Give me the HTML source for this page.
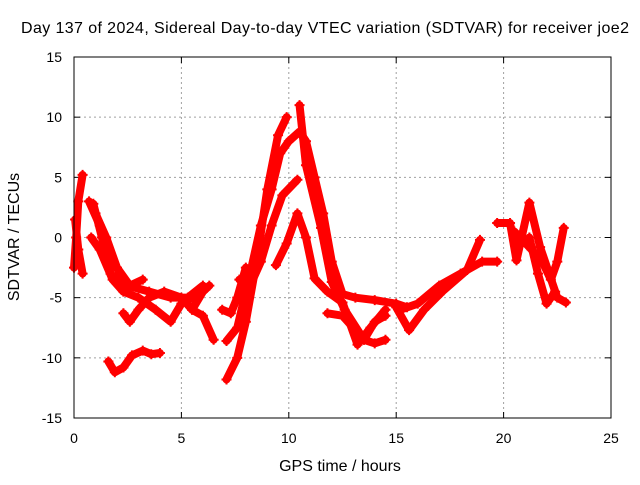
<!DOCTYPE html>
<html><head><meta charset="utf-8"><style>
body{margin:0;background:#fff}
svg text{font-family:"Liberation Sans",sans-serif;font-size:14px;fill:#000}
svg text.big{font-size:16px}
</style></head><body>
<svg id="c" width="640" height="480"></svg>
<script>
const xTicks=[0,5,10,15,20,25];
const yTicks=[-15,-10,-5,0,5,10,15];
const track1=[[0,-2.5],[0.1,0],[0.2,3],[0.4,5.2]];
const track2=[[0.05,1.5],[0.2,-1],[0.4,-3]];
const track3=[[0.7,3],[1.2,1],[1.8,-2],[2.5,-4],[3.5,-4.5],[4.5,-5],[5.3,-5],[6,-4]];
const track4=[[0.8,0],[1.2,-1],[1.8,-3.5],[2.3,-4.5],[3,-5],[3.8,-6],[4.5,-7],[5,-5.5],[5.5,-5]];
const track5=[[1,2],[1.5,0],[2,-2.5],[2.6,-4],[3.2,-3.5]];
const track5b=[[0.9,2.8],[1.3,0],[1.7,-3],[2.2,-4]];
const track6=[[2.3,-6.3],[2.6,-7],[3,-6],[3.5,-5],[4.2,-4.5],[5,-5],[5.5,-6],[6,-6.5],[6.5,-8.5]];
const track7=[[1.6,-10.3],[1.9,-11.2],[2.3,-10.8],[2.7,-9.8],[3.2,-9.4],[3.6,-9.7],[4,-9.6]];
const track8=[[5.5,-6],[6,-4.5],[6.3,-4]];
const track9=[[7.1,-11.8],[7.6,-10],[8,-7],[8.5,-2],[9,4],[9.5,8.5],[9.9,10]];
const track10=[[7.1,-8.6],[7.6,-7.5],[8.2,-3],[8.7,1],[9.2,4],[9.6,7],[10,8],[10.5,8.8],[10.8,8],[11.2,5],[11.6,2],[12,-2],[12.5,-4.7],[13.1,-5],[14,-5.2],[15,-5.5],[15.5,-5.8]];
const track11=[[7.7,-3.5],[8.2,-4],[8.7,-2],[9.2,1],[9.7,3.5],[10.4,4.8]];
const track12=[[6.9,-6],[7.3,-6.3],[7.6,-5],[8,-2.5]];
const track13=[[9.4,-2.3],[9.9,-0.5],[10.4,2],[10.8,0],[11.2,-3.4],[11.8,-4.5],[12.5,-5.4],[13.2,-8.9],[13.8,-7.5],[14.5,-6]];
const track14=[[10.5,11],[10.8,6],[11.5,0.8],[12,-3.7],[12.6,-6],[13.5,-8.5],[14,-7],[14.5,-6.5]];
const track15=[[11.8,-6.3],[12.5,-6.5],[13,-7.5],[13.5,-8.5],[14,-8.8],[14.5,-8.5]];
const track16=[[15,-5.8],[15.6,-7.7],[16.3,-6],[17.2,-4.4],[18.3,-2.7],[18.9,-0.2]];
const track17=[[15.2,-6],[16,-5.5],[17,-4],[18,-3],[19,-2],[19.7,-2]];
const track18=[[19.7,1.2],[20.3,1.2],[20.6,-1.9],[21.2,2.9],[21.7,-0.8],[22.5,-5],[22.9,-5.4]];
const track19=[[20.5,0.5],[21.3,-1],[21.8,-2],[22.2,-3.5],[22.5,-2],[22.8,0.8]];
const track20=[[21.2,0],[21.6,-3],[22,-5.5],[22.4,-4.5]];
const tracks=[track1,track2,track3,track4,track5,track5b,track6,track7,track8,track9,track10,track11,track12,track13,track14,track15,track16,track17,track18,track19,track20];

const L=74,R=611,T=57,B=418;
const X=t=>L+(t-0)/(25-0)*(R-L);
const Y=v=>B-(v+15)/30*(B-T);
const NS="http://www.w3.org/2000/svg";
const svg=document.getElementById('c');
function mk(tag,attrs){const e=document.createElementNS(NS,tag);for(const k in attrs)e.setAttribute(k,attrs[k]);svg.appendChild(e);return e;}
let e;
e=mk('text',{x:325,y:33,'text-anchor':'middle',class:'big',textLength:608});e.textContent='Day 137 of 2024, Sidereal Day-to-day VTEC variation (SDTVAR) for receiver joe2';


xTicks.forEach(t=>{
  if(t>0&&t<25){e=mk('line',{x1:X(t),x2:X(t),y1:T,y2:B,stroke:'#a0a0a0','stroke-dasharray':'2,3'});
  
  }
  e=mk('line',{x1:X(t),x2:X(t),y1:B,y2:B-6,stroke:'#000'});
  e=mk('line',{x1:X(t),x2:X(t),y1:T,y2:T+6,stroke:'#000'});
  e=mk('text',{x:X(t),y:443,'text-anchor':'middle'});e.textContent=t;
  
  
});
yTicks.forEach(v=>{
  if(v>-15&&v<15){e=mk('line',{x1:L,x2:R,y1:Y(v),y2:Y(v),stroke:'#a0a0a0','stroke-dasharray':'2,3'});
  
  }
  e=mk('line',{x1:L,x2:L+6,y1:Y(v),y2:Y(v),stroke:'#000'});
  e=mk('line',{x1:R,x2:R-6,y1:Y(v),y2:Y(v),stroke:'#000'});
  e=mk('text',{x:62,y:Y(v)+5,'text-anchor':'end'});e.textContent=v;
  
  
});
tracks.forEach(tr=>{
  e=mk('polyline',{points:tr.map(p=>X(p[0])+','+Y(p[1])).join(' '),fill:'none',stroke:'#ff0000','stroke-width':8,'stroke-linejoin':'round','stroke-linecap':'round'});
  
  
  tr.forEach(p=>{
    e=mk('path',{d:`M${X(p[0])-5},${Y(p[1])}h10M${X(p[0])},${Y(p[1])-5}v10`,stroke:'#ff0000','stroke-width':2});
    
    
  });
});
e=mk('rect',{x:L,y:T,width:R-L,height:B-T,fill:'none',stroke:'#000'});


e=mk('text',{x:340,y:471,'text-anchor':'middle',class:'big'});e.textContent='GPS time / hours';


e=mk('text',{x:0,y:0,'text-anchor':'middle',class:'big',transform:'translate(19,237) rotate(-90)'});e.textContent='SDTVAR / TECUs';


</script>
</body></html>
